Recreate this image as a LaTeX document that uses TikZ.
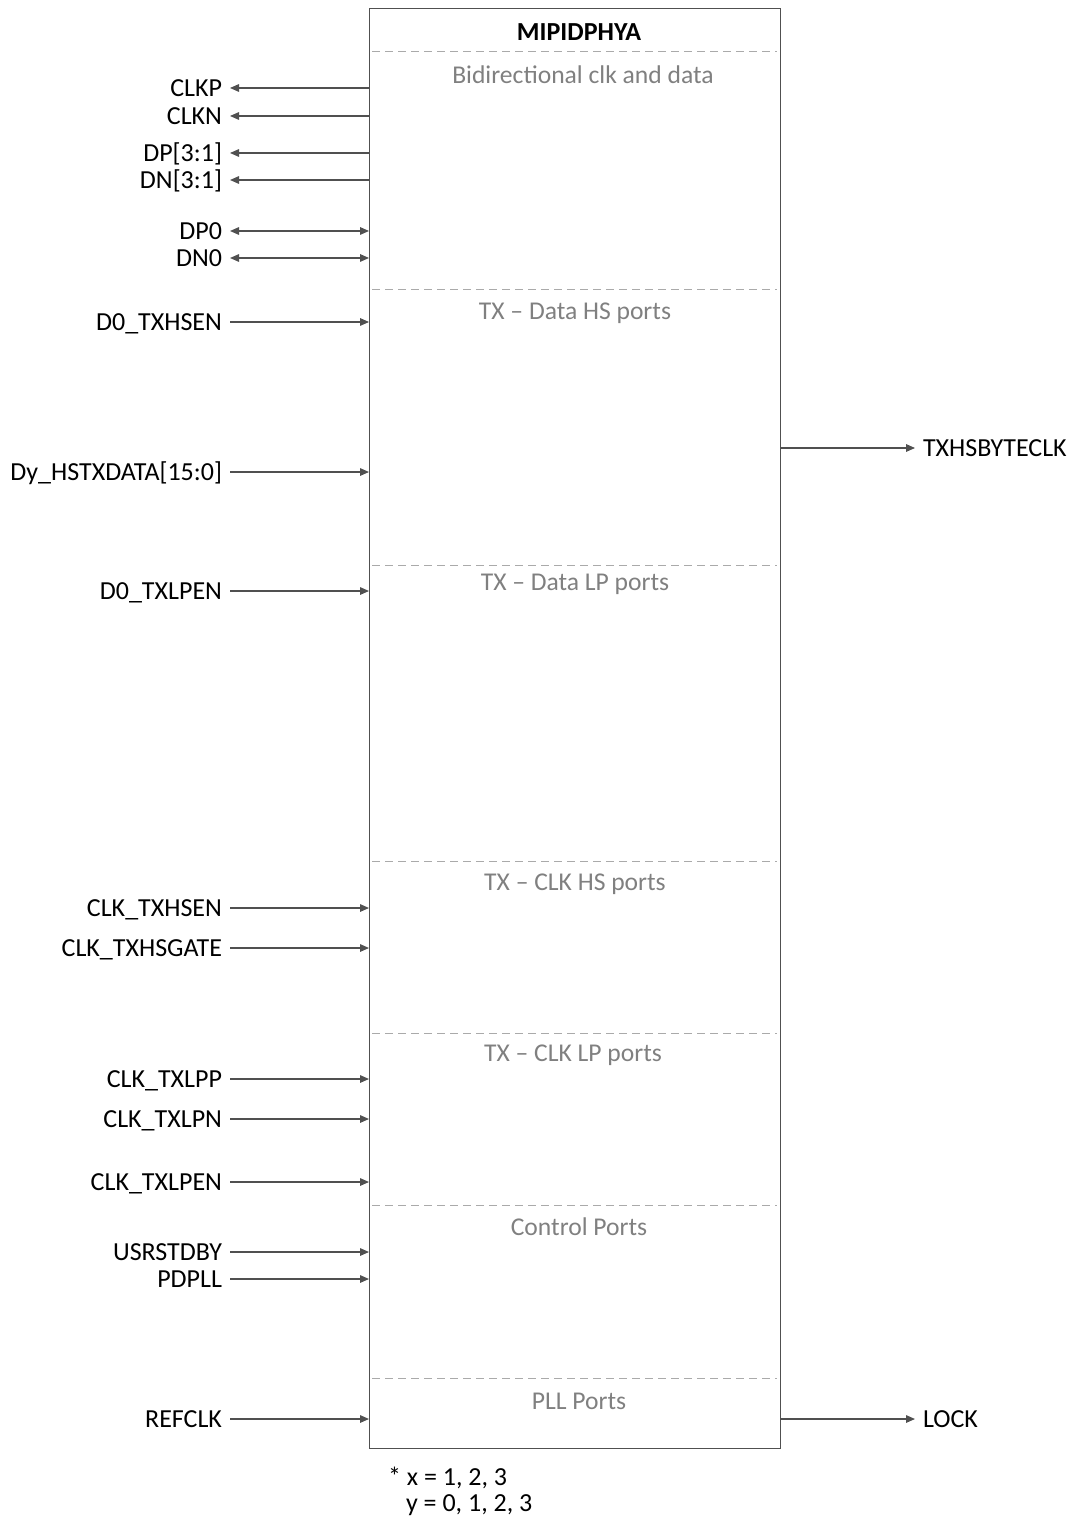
\documentclass[tikz,border=0pt]{standalone}
\usepackage{fontspec}
\setmainfont{Carlito}
\usetikzlibrary{arrows.meta, positioning}
\definecolor{wiregray}{RGB}{80,80,80}
\definecolor{secgray}{RGB}{128,128,128}
\definecolor{dashgray}{RGB}{170,170,170}

\begin{document}
\begin{tikzpicture}[
		x=0.5pt, y=-0.5pt,
		box/.style={draw=wiregray, line width=0.6pt, minimum width=205.5pt, minimum height=720pt, inner sep=0pt, anchor=north west},
		sig/.style={inner sep=0pt, outer xsep=4pt, outer ysep=0pt, text height=8.4pt, text depth=0pt, font=\fontsize{13}{15}\selectfont},
		insig/.style={sig, anchor=east},
		outsig/.style={sig, anchor=west},
		sec/.style={font=\fontsize{12.8}{15}\selectfont, text=secgray},
		sep/.style={draw=dashgray, line width=0.5pt, dash pattern=on 4pt off 2.5pt},
		arr/.style={-{Triangle[length=4.5pt, width=3.8pt]}, line width=0.6pt, draw=wiregray},
		biarr/.style={{Triangle[length=4.5pt, width=3.8pt]}-{Triangle[length=4.5pt, width=3.8pt]}, line width=0.6pt, draw=wiregray}
		]
		\useasboundingbox (0,0) rectangle (1073,1524);
		
		% main block
		\node[box] (mipi) at (369,8) {};
		\node[font=\fontsize{13}{15}\selectfont\bfseries] (title) at (579,32) {MIPIDPHYA};
		
		% section separators and headings
		\draw[sep] (372,52) -- (777,52);
		\draw[sep] (372,290) -- (777,290);
		\draw[sep] (372,565) -- (777,565);
		\draw[sep] (372,861) -- (777,861);
		\draw[sep] (372,1033) -- (777,1033);
		\draw[sep] (372,1205) -- (777,1205);
		\draw[sep] (372,1378) -- (777,1378);
		\node[sec] (secbidir) at (583,75) {Bidirectional clk and data};
		\node[sec] (sechs) at (575,313) {TX -- Data HS ports};
		\node[sec] (seclp) at (575,584) {TX -- Data LP ports};
		\node[sec] (secclkhs) at (575,884) {TX -- CLK HS ports};
		\node[sec] (secclklp) at (573,1055) {TX -- CLK LP ports};
		\node[sec] (secctrl) at (579,1227) {Control Ports};
		\node[sec] (secpll) at (579,1401) {PLL Ports};
		
		% left side ports
		\node[insig] (clkp) at (230,88) {CLKP};
		\node[insig] (clkn) at (230,116) {CLKN};
		\node[insig] (dp) at (230,153) {DP[3:1]};
		\node[insig] (dn) at (230,180) {DN[3:1]};
		\node[insig] (dpz) at (230,231) {DP0};
		\node[insig] (dnz) at (230,258) {DN0};
		\node[insig] (txhsen) at (230,322) {D0\_TXHSEN};
		\node[insig] (hstxdata) at (230,472) {Dy\_HSTXDATA[15:0]};
		\node[insig] (txlpen) at (230,591) {D0\_TXLPEN};
		\node[insig] (clkhsen) at (230,908) {CLK\_TXHSEN};
		\node[insig] (clkhsgate) at (230,948) {CLK\_TXHSGATE};
		\node[insig] (clklpp) at (230,1079) {CLK\_TXLPP};
		\node[insig] (clklpn) at (230,1119) {CLK\_TXLPN};
		\node[insig] (clklpen) at (230,1182) {CLK\_TXLPEN};
		\node[insig] (usrstdby) at (230,1252) {USRSTDBY};
		\node[insig] (pdpll) at (230,1279) {PDPLL};
		\node[insig] (refclk) at (230,1419) {REFCLK};
		
		% right side ports
		\node[outsig] (byteclk) at (915,448) {TXHSBYTECLK};
		\node[outsig] (lock) at (915,1419) {LOCK};
		
		\draw[arr] (clkp -| mipi.west) -- (clkp.east);
		\draw[arr] (clkn -| mipi.west) -- (clkn.east);
		\draw[arr] (dp -| mipi.west) -- (dp.east);
		\draw[arr] (dn -| mipi.west) -- (dn.east);
		\draw[biarr] (dpz.east) -- (dpz -| mipi.west);
		\draw[biarr] (dnz.east) -- (dnz -| mipi.west);
		\draw[arr] (txhsen.east) -- (txhsen -| mipi.west);
		\draw[arr] (hstxdata.east) -- (hstxdata -| mipi.west);
		\draw[arr] (txlpen.east) -- (txlpen -| mipi.west);
		\draw[arr] (clkhsen.east) -- (clkhsen -| mipi.west);
		\draw[arr] (clkhsgate.east) -- (clkhsgate -| mipi.west);
		\draw[arr] (clklpp.east) -- (clklpp -| mipi.west);
		\draw[arr] (clklpn.east) -- (clklpn -| mipi.west);
		\draw[arr] (clklpen.east) -- (clklpen -| mipi.west);
		\draw[arr] (usrstdby.east) -- (usrstdby -| mipi.west);
		\draw[arr] (pdpll.east) -- (pdpll -| mipi.west);
		\draw[arr] (refclk.east) -- (refclk -| mipi.west);
		\draw[arr] (byteclk -| mipi.east) -- (byteclk.west);
		\draw[arr] (lock -| mipi.east) -- (lock.west);
		
		% footnote
		\node[anchor=west, font=\fontsize{13}{15}\selectfont] (notex) at (381,1478) {* x = 1, 2, 3};
		\node[anchor=west, font=\fontsize{13}{15}\selectfont] (notey) at (399,1505) {y = 0, 1, 2, 3};
	\end{tikzpicture}
\end{document}
